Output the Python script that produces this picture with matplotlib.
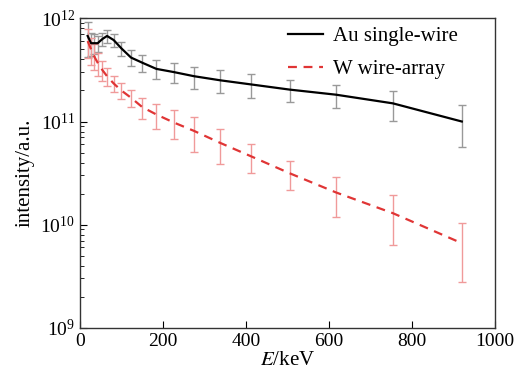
import numpy as np
import matplotlib
matplotlib.use("Agg")
import matplotlib.pyplot as plt

plt.rcParams['font.family'] = ['Liberation Serif', 'DejaVu Serif']
plt.rcParams['mathtext.fontset'] = 'stix'

# photon energy (keV) of the measured points
energy = [18.5, 26.7, 33, 42.6, 53.9, 65.2, 81.1, 99.6, 123, 150, 184,
          225.5, 275, 338, 412, 505, 617, 754, 920]

# Au single-wire
au_int = [6.76e11, 5.75e11, 5.75e11, 5.75e11, 6.31e11, 6.76e11, 6.17e11,
          5.13e11, 4.17e11, 3.72e11, 3.24e11, 3.02e11, 2.75e11, 2.51e11,
          2.29e11, 2.04e11, 1.82e11, 1.50e11, 1.00e11]
au_err = [2.5e11, 1.45e11, 1.25e11, 1.05e11, 0.95e11, 1.0e11, 0.92e11,
          0.82e11, 0.75e11, 0.67e11, 0.68e11, 0.66e11, 0.66e11, 0.63e11,
          0.6e11, 0.5e11, 0.46e11, 0.48e11, 0.43e11]

# W wire-array
w_int = [6.03e11, 5.01e11, 4.37e11, 3.72e11, 3.16e11, 2.75e11, 2.34e11,
         2.0e11, 1.70e11, 1.38e11, 1.17e11, 9.8e10, 8.1e10, 6.2e10,
         4.6e10, 3.15e10, 2.05e10, 1.29e10, 6.6e9]
w_err = [1.93e11, 1.5e11, 1.22e11, 0.93e11, 0.7e11, 0.55e11, 0.42e11,
         0.34e11, 0.32e11, 0.32e11, 0.32e11, 0.30e11, 0.30e11, 0.235e11,
         0.14e11, 0.098e11, 0.086e11, 0.065e11, 0.038e11]

fig = plt.figure(figsize=(5.28, 3.76), dpi=100)
ax = fig.add_axes([0.1515, 0.1285, 0.786, 0.8225])

ax.errorbar(energy, au_int, yerr=au_err, fmt='none', ecolor='#999999',
            elinewidth=1.0, capsize=3, capthick=1.0)
ax.errorbar(energy, w_int, yerr=w_err, fmt='none', ecolor='#f09a9a',
            elinewidth=1.0, capsize=3, capthick=1.0)
ax.plot(energy, au_int, color='black', lw=1.6, label='Au single-wire')
ax.plot(energy, w_int, color='#e03535', lw=1.6, ls=(0, (4, 3)),
        label='W wire-array')

ax.set_yscale('log')
ax.set_xlim(0, 1000)
ax.set_ylim(1e9, 1e12)
ax.set_xticks([0, 200, 400, 600, 800, 1000])
ax.tick_params(which='both', direction='in', top=False, right=False,
               labelsize=14)
ax.tick_params(which='major', length=5)
ax.tick_params(which='minor', length=3)
for s in ax.spines.values():
    s.set_color('#333333')
    s.set_linewidth(1.0)

ax.set_xlabel('$\\mathit{E}$/keV', fontsize=15, labelpad=1)
ax.set_ylabel('intensity/a.u.', fontsize=15, labelpad=4)

ax.legend(loc='upper left', bbox_to_anchor=(0.48, 1.0), frameon=False,
          fontsize=15, handlelength=1.7, handletextpad=0.5,
          borderaxespad=0, labelspacing=0.65)

fig.savefig('out.png', dpi=100)
